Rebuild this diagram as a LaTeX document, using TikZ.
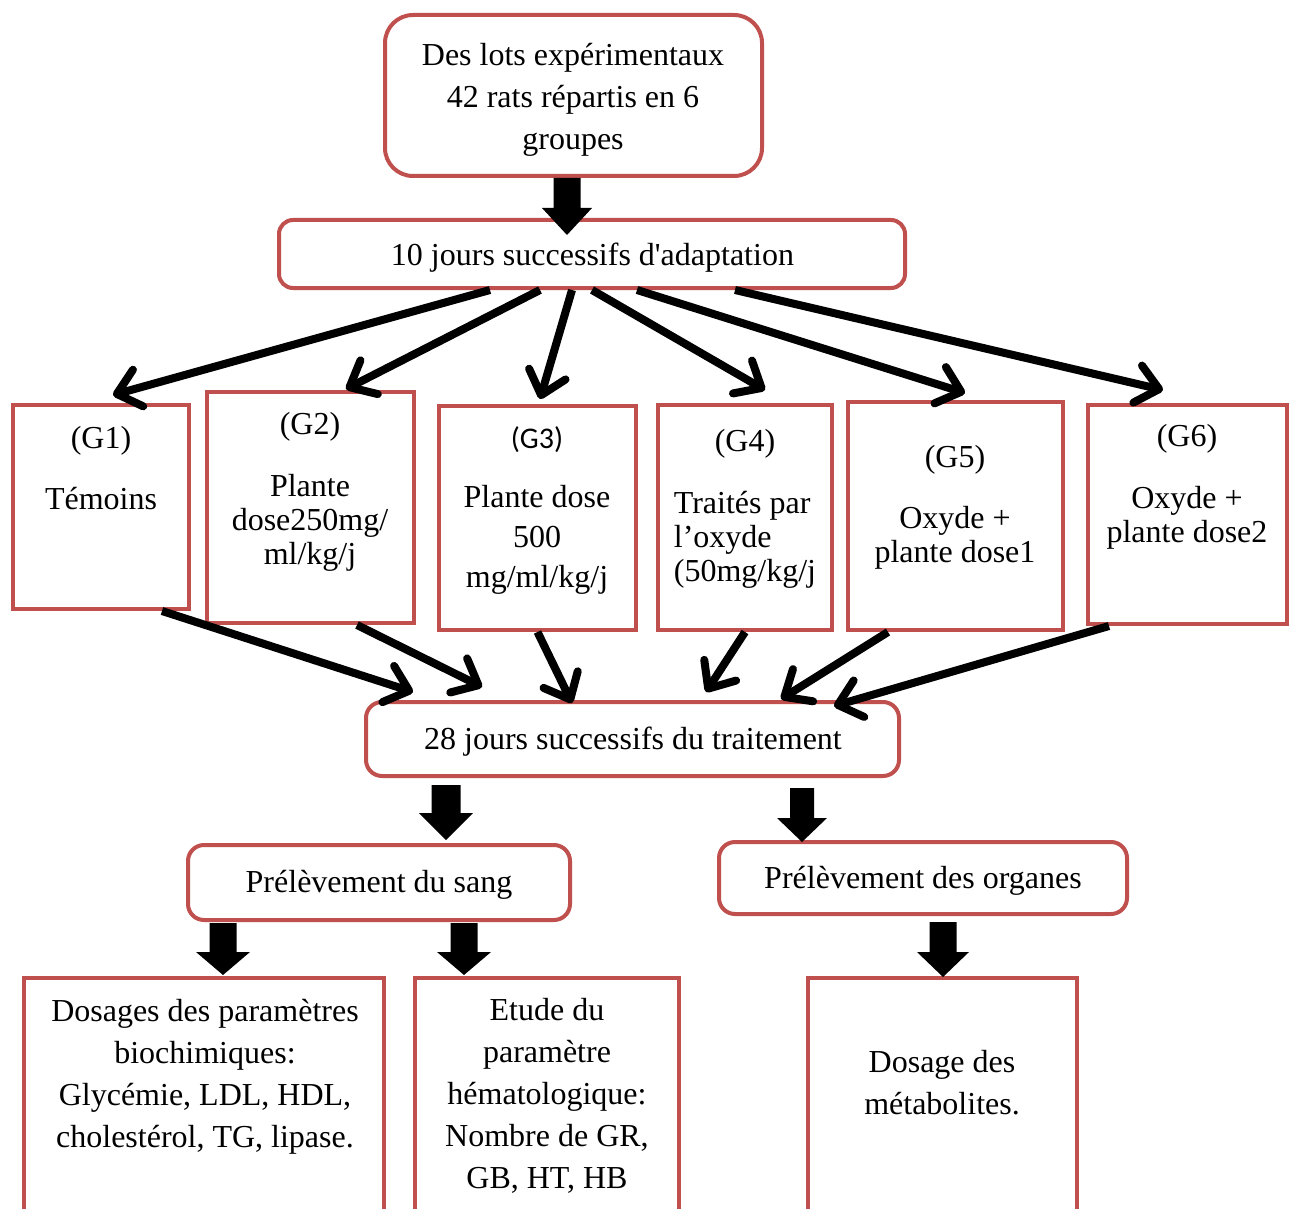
\documentclass[tikz,border=0pt]{standalone}
\usepackage{fontspec}
\setmainfont{Liberation Serif}
\newfontfamily\rawserif{Liberation Serif}
\newfontfamily\calib{Carlito}
\usetikzlibrary{arrows.meta,calc}
\definecolor{bred}{HTML}{C0504D}
\newcommand\fatarr[5]{%
  \fill[black] let \p1=#1, \p2=#2 in
    (\x1-#3,\y1) -- (\x1+#3,\y1) -- (\x1+#3,\y2+#5) -- (\x1+#4,\y2+#5)
    -- (\x1,\y2) -- (\x1-#4,\y2+#5) -- (\x1-#3,\y2+#5) -- cycle;}
\begin{document}
\begin{tikzpicture}[x=1pt,y=-1pt,
  box/.style={draw=bred, line width=4pt, fill=white, inner sep=0pt},
  rbox/.style={box, rounded corners=14pt},
  txt/.style={font=\fontsize{32}{42}\selectfont, align=center, inner sep=0pt},
  conn/.style={line width=8pt, -{Straight Barb[length=22pt,width=38pt,round]}}]
\useasboundingbox (0,0) rectangle (1290,1209);
\clip (0,0) rectangle (1290,1209);

% boxes
\node[rbox, rounded corners=28pt, minimum width=377pt, minimum height=161pt] (top) at (573.5,95.5) {};
\node[rbox, minimum width=626pt, minimum height=68pt] (adapt) at (592,254) {};

\node[box, minimum width=176pt, minimum height=204pt] (g1) at (101,507) {};
\node[box, minimum width=207pt, minimum height=231pt] (g2) at (310.5,507.5) {};
\node[box, minimum width=197pt, minimum height=224pt] (g3) at (537.5,518) {};
\node[box, minimum width=174pt, minimum height=225pt] (g4) at (745,517.5) {};
\node[box, minimum width=215pt, minimum height=228pt] (g5) at (955.5,516) {};
\node[box, minimum width=199pt, minimum height=219pt] (g6) at (1187.5,514.5) {};

\node[rbox, rounded corners=16pt, minimum width=533pt, minimum height=74pt] (trait) at (632.5,739) {};
\node[rbox, rounded corners=16pt, minimum width=382pt, minimum height=75pt] (sang) at (379,882.5) {};
\node[rbox, rounded corners=16pt, minimum width=408pt, minimum height=72pt] (org) at (923,878) {};

\node[box, minimum width=360pt, minimum height=252pt] (dos) at (204,1104) {};
\node[box, minimum width=264pt, minimum height=252pt] (etu) at (547,1104) {};
\node[box, minimum width=269pt, minimum height=252pt] (met) at (942.5,1104) {};

% texts
\node[txt] (ttop) at ($(top.center)+(-0.5,4)$) {Des lots expérimentaux\\42 rats répartis en 6\\groupes};
\node[txt] (tadapt) at ($(adapt.center)+(0.5,4)$) {10 jours successifs d{\rawserif'}adaptation};
\node[txt] (ttrait) at ($(trait.center)+(0.5,3)$) {28 jours successifs du traitement};
\node[txt] (tsang) at ($(sang.center)+(0,2)$) {Prélèvement du sang};
\node[txt] (torg) at ($(org.center)+(0,3)$) {Prélèvement des organes};

\node[txt, font=\fontsize{32}{34}\selectfont] (t1) at (101,468) {(G1)\\[27pt]Témoins};
\node[txt, font=\fontsize{32}{34}\selectfont] (t2) at (310,491.5) {(G2)\\[28pt]Plante\\dose250mg/\\ml/kg/j};
\node[txt, font=\fontsize{32}{40}\selectfont] (t3) at (537,510.5)
  {{\calib\fontsize{30}{40}\selectfont (G3)}\\[19pt]Plante dose\\500\\mg/ml/kg/j};
\node[txt] (t4a) at (745,444) {(G4)};
\node[txt, align=left, font=\fontsize{32}{34}\selectfont] (t4b) at (745,540) {Traités par\\l’oxyde\\(50mg/kg/j};
\node[txt, font=\fontsize{32}{34}\selectfont] (t5) at (955,507) {(G5)\\[27pt]Oxyde +\\plante dose1};
\node[txt, font=\fontsize{32}{34}\selectfont] (t6) at (1187,486.5) {(G6)\\[28pt]Oxyde +\\plante dose2};
\node[txt] (t7) at (205,1077) {Dosages des paramètres\\biochimiques:\\Glycémie, LDL, HDL,\\cholestérol, TG, lipase.};
\node[txt] (t8) at (547,1096) {Etude du\\paramètre\\hématologique:\\Nombre de GR,\\GB, HT, HB};
\node[txt] (t9) at (942,1083) {Dosage des\\métabolites.};

% thin arrows: fan out
\draw[conn] ($(adapt.south)+(-102,0)$) -- ($(g1.north)+(12,-8)$);
\draw[conn] ($(adapt.south)+(-52,0)$) -- ($(g2.north)+(35.5,-1)$);
\draw[conn] ($(adapt.south)+(-20,0)$) -- ($(g3.north)+(2.5,-5)$);
\draw[conn] ($(adapt.south)+(0,0)$) -- ($(g4.north)+(20,-13)$);
\draw[conn] ($(adapt.south)+(45,0)$) -- ($(g5.north)+(9.5,-7)$);
\draw[conn] ($(adapt.south)+(143,0)$) -- ($(g6.north)+(-24.5,-13)$);

% thin arrows: fan in
\draw[conn] ($(g1.south)+(61,0)$) -- ($(trait.north)+(-219.5,-8)$);
\draw[conn] ($(g2.south)+(46.5,0)$) -- ($(trait.north)+(-150.5,-13)$);
\draw[conn] ($(g3.south)+(0,0)$) -- ($(trait.north)+(-60.5,3)$);
\draw[conn] ($(g4.south)+(0,0)$) -- ($(trait.north)+(73.5,-8)$);
\draw[conn] ($(g5.south)+(-67.5,0)$) -- ($(trait.north)+(148.5,-1)$);
\draw[conn] ($(g6.south)+(-78.5,0)$) -- ($(trait.north)+(201.5,6)$);

% block arrows
\fatarr{($(top.south)+(-6.5,0)$)}{($(adapt.north)+(-25,17)$)}{13.5pt}{25pt}{27pt}
\fatarr{($(trait.south)+(-186.5,7)$)}{($(sang.north)+(67,-3)$)}{14.5pt}{27pt}{27pt}
\fatarr{($(trait.south)+(169.5,10)$)}{($(org.north)+(-121,2)$)}{12pt}{25pt}{24pt}
\fatarr{($(sang.south)+(-156,1)$)}{($(dos.north)+(19,-1)$)}{13.5pt}{27pt}{23pt}
\fatarr{($(sang.south)+(85,1)$)}{($(etu.north)+(-83,-1)$)}{13.5pt}{27pt}{23pt}
\fatarr{($(org.south)+(20,6)$)}{($(met.north)+(0.5,1)$)}{13.5pt}{26pt}{25pt}
\end{tikzpicture}
\end{document}
